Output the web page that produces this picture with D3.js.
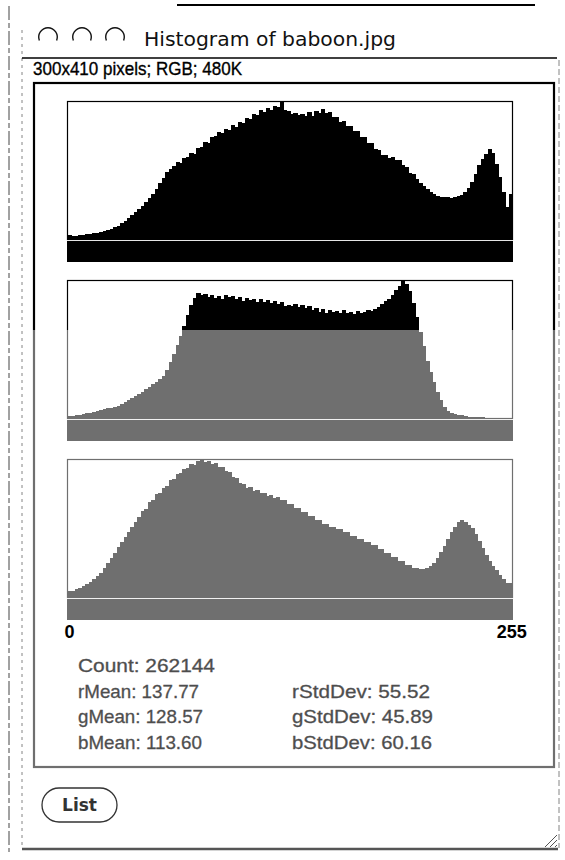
<!DOCTYPE html>
<html><head><meta charset="utf-8">
<script src="https://cdn.jsdelivr.net/npm/d3@7"></script>
<style>body{margin:0;background:#fff}svg{display:block}</style>
</head><body><svg id="c" width="565" height="860"></svg>
<script>
// ---- data (counts, one value per 2 intensity levels, relative units) ----
const levels = d3.range(0, 256, 2);
const redCounts = [
 4,3,3,4,4,5,5,6,6,7,
 8,9,10,12,13,16,18,21,24,27,
 30,33,37,41,45,50,56,61,67,70,
 73,77,76,81,82,86,85,91,92,97,
 96,102,103,107,106,110,109,114,112,117,
 116,121,120,125,124,129,127,131,129,133,
 132,137,129,128,125,126,124,125,123,127,
 123,128,126,130,126,127,122,122,117,118,
 113,113,108,108,102,102,96,96,90,89,
 84,84,81,82,79,79,74,72,66,65,
 60,56,53,50,47,45,43,42,42,42,
 41,42,43,44,47,51,57,65,74,80,
 85,90,86,75,62,47,32,45];
const greenCounts = [
 2,2,3,3,4,5,5,6,7,8,
 9,10,10,11,12,14,16,18,20,22,
 24,26,29,31,34,36,39,42,48,56,
 64,72,81,91,102,112,119,124,122,123,
 120,122,119,121,118,122,120,121,118,120,
 116,119,117,118,115,118,115,117,114,116,
 113,115,111,112,111,113,110,112,109,111,
 107,109,105,108,104,107,105,106,104,107,
 104,105,103,106,104,105,107,106,108,110,
 113,116,118,122,127,131,136,133,126,114,
 100,85,71,57,46,36,26,18,11,7,
 5,4,3,3,2,1,1,1,1,1,
 0,0,0,0,0,0,0,0];
const blueCounts = [
 6,6,8,9,11,13,15,18,21,24,
 29,34,39,44,50,55,60,65,71,76,
 81,87,89,96,98,104,105,110,112,118,
 119,124,125,129,130,134,133,137,138,136,
 137,134,135,131,131,127,126,121,120,115,
 114,110,111,107,108,105,105,102,103,100,
 101,98,98,94,94,90,90,86,86,82,
 82,78,78,74,74,71,71,68,69,65,
 65,61,61,58,58,55,55,52,52,48,
 48,44,44,40,40,36,36,32,32,29,
 29,28,28,29,31,34,39,45,51,58,
 65,71,76,78,76,73,70,63,56,49,
 42,36,31,27,22,18,14,14];
const axisTicks = [0, 255];
const titleText = "Histogram of baboon.jpg";
const infoText = "300x410 pixels; RGB; 480K";
const statsLeft = ["Count: 262144", "rMean: 137.77", "gMean: 128.57", "bMean: 113.60"];
const statsRight = ["", "rStdDev: 55.52", "gStdDev: 45.89", "bStdDev: 60.16"];
const buttonLabel = "List";

// ---- drawing ----
const svg = d3.select("#c");
const W = 565, H = 860;
const defs = svg.append("defs");
// scanned picture: ink is black above the scan band, grey below
function inkGrad(id, dark, light) {
  const g = defs.append("linearGradient").attr("id", id)
    .attr("gradientUnits", "userSpaceOnUse")
    .attr("x1", 0).attr("y1", 0).attr("x2", 0).attr("y2", H);
  g.append("stop").attr("offset", 330 / H).attr("stop-color", dark);
  g.append("stop").attr("offset", 330 / H).attr("stop-color", light);
}
inkGrad("ink", "#000", "#6f6f6f");
inkGrad("inkText", "#000", "#4d4d4d");
const INK = "url(#ink)", INKT = "url(#inkText)";

svg.append("rect").attr("width", W).attr("height", H).attr("fill", "#fff");

// window chrome
svg.append("line").attr("x1", 9).attr("x2", 9).attr("y1", 6).attr("y2", 852)
  .attr("stroke", "#444").attr("stroke-width", 1).attr("stroke-dasharray", "14 3 5 3");
svg.append("line").attr("x1", 22).attr("x2", 22).attr("y1", 30).attr("y2", 848)
  .attr("stroke", "#666").attr("stroke-width", 0.8).attr("stroke-dasharray", "3 4");
svg.append("line").attr("x1", 559).attr("x2", 559).attr("y1", 60).attr("y2", 848)
  .attr("stroke", "#666").attr("stroke-width", 0.8).attr("stroke-dasharray", "6 3");
svg.append("line").attr("x1", 177).attr("x2", 535).attr("y1", 5).attr("y2", 5)
  .attr("stroke", "#000").attr("stroke-width", 2);
svg.append("line").attr("x1", 22).attr("x2", 557).attr("y1", 58).attr("y2", 58)
  .attr("stroke", "#000").attr("stroke-width", 1.5);
svg.append("line").attr("x1", 22).attr("x2", 558).attr("y1", 849).attr("y2", 849)
  .attr("stroke", "#555").attr("stroke-width", 2.5);

// title-bar buttons
const arc = d3.arc().innerRadius(8.6).outerRadius(10).startAngle(-0.62 * Math.PI).endAngle(0.62 * Math.PI);
[48, 82, 115].forEach(cx => {
  svg.append("path").attr("d", arc()).attr("transform", `translate(${cx},37)`).attr("fill", "#111");
});
svg.append("text").attr("x", 144).attr("y", 46).text(titleText)
  .attr("font-family", "DejaVu Sans").attr("font-size", 19).attr("fill", "#111")
  .attr("textLength", 252).attr("lengthAdjust", "spacingAndGlyphs");
svg.append("text").attr("x", 33).attr("y", 75).text(infoText)
  .attr("font-family", "Liberation Sans").attr("font-size", 19).attr("fill", "#000")
  .attr("stroke", "#000").attr("stroke-width", 0.35)
  .attr("textLength", 209).attr("lengthAdjust", "spacingAndGlyphs");

// main panel frame
svg.append("rect").attr("x", 34).attr("y", 83).attr("width", 520).attr("height", 684)
  .attr("fill", "none").attr("stroke", INK).attr("stroke-width", 2.2);

// histograms
const x = d3.scaleLinear().domain([0, 256]).range([68, 512]);
const panels = [
  { counts: redCounts, top: 101 },
  { counts: greenCounts, top: 280 },
  { counts: blueCounts, top: 459 }
];
const plotH = 138, stripGap = 2, stripH = 21;
panels.forEach(p => {
  const base = p.top + plotH;
  const y = d3.scaleLinear().domain([0, d3.max(p.counts)]).range([base, p.top + 1]);
  const g = svg.append("g");
  g.append("rect").attr("x", 67.5).attr("y", p.top + 0.5).attr("width", 445).attr("height", plotH)
    .attr("fill", "#fff").attr("stroke", INK).attr("stroke-width", 1.2);
  g.append("g").attr("shape-rendering", "crispEdges")
    .selectAll("rect").data(levels).join("rect")
    .attr("x", d => x(d))
    .attr("width", d => x(d + 2) - x(d) + 0.8)
    .attr("y", (d, i) => y(p.counts[i]))
    .attr("height", (d, i) => base - y(p.counts[i]))
    .attr("fill", INK);
  g.append("rect").attr("x", 67).attr("y", base + stripGap).attr("width", 446).attr("height", stripH)
    .attr("fill", INK);
});

// axis labels
const axis = d3.axisBottom(x).tickValues(axisTicks).tickSize(0).tickPadding(0).tickFormat(d3.format("d"));
const ax = svg.append("g").attr("transform", "translate(1,625)").call(axis);
ax.select(".domain").remove();
ax.selectAll("text").attr("font-family", "Liberation Sans").attr("font-size", 18)
  .attr("font-weight", "bold").attr("fill", INKT).attr("dy", "0.72em");

// statistics
const statW = { "Count: 262144": 137, "rMean: 137.77": 121, "gMean: 128.57": 125, "bMean: 113.60": 124,
  "rStdDev: 55.52": 138, "gStdDev: 45.89": 141, "bStdDev: 60.16": 140 };
function stat(t, xx, i) {
  svg.append("text").attr("x", xx).attr("y", 672 + i * 25.7).text(t)
    .attr("font-family", "Liberation Sans").attr("font-size", 19).attr("fill", INKT)
    .attr("stroke", INKT).attr("stroke-width", 0.3)
    .attr("textLength", statW[t]).attr("lengthAdjust", "spacingAndGlyphs");
}
statsLeft.forEach((t, i) => stat(t, 78, i));
statsRight.forEach((t, i) => { if (t) stat(t, 292, i); });

// List button
svg.append("rect").attr("x", 42).attr("y", 788).attr("width", 75).attr("height", 34).attr("rx", 17)
  .attr("fill", "#fff").attr("stroke", "#333").attr("stroke-width", 1.3);
svg.append("text").attr("x", 79.5).attr("y", 811).attr("text-anchor", "middle").text(buttonLabel)
  .attr("font-family", "DejaVu Sans").attr("font-weight", "bold").attr("font-size", 17).attr("fill", "#333");

// resize grip
[0, 5, 10].forEach(o => {
  svg.append("line").attr("x1", 545 + o).attr("y1", 847).attr("x2", 557).attr("y2", 835 + o)
    .attr("stroke", "#555").attr("stroke-width", 1);
});
</script></body></html>
